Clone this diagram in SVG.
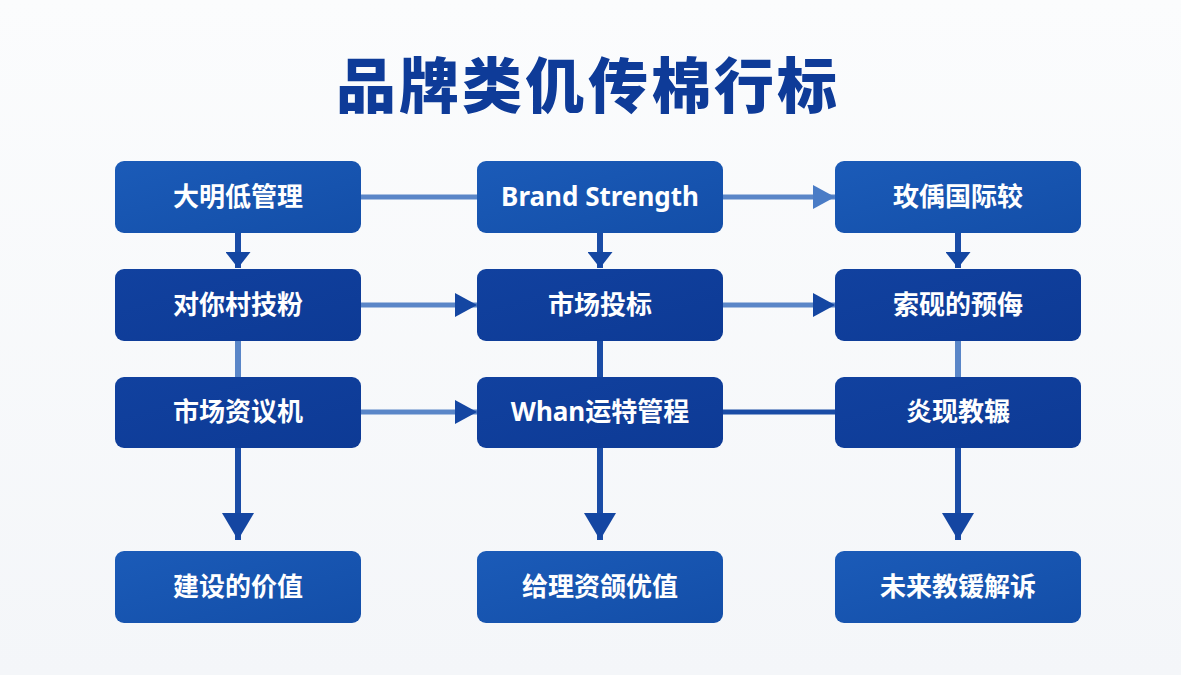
<svg xmlns="http://www.w3.org/2000/svg" width="1181" height="675" viewBox="0 0 1181 675">
  <defs>
    <linearGradient id="bg" x1="0" y1="0" x2="0" y2="1">
      <stop offset="0" stop-color="#fbfcfd"/>
      <stop offset="1" stop-color="#f4f6f9"/>
    </linearGradient>
    <linearGradient id="gLight" x1="0" y1="0" x2="1" y2="1">
      <stop offset="0" stop-color="#1b5bb8"/>
      <stop offset="1" stop-color="#134ea8"/>
    </linearGradient>
    <linearGradient id="gDark" x1="0" y1="0" x2="1" y2="1">
      <stop offset="0" stop-color="#11419f"/>
      <stop offset="1" stop-color="#0d3a95"/>
    </linearGradient>
    <marker id="arrV" viewBox="0 0 25 16" refX="12.5" refY="16" markerWidth="25" markerHeight="16" markerUnits="userSpaceOnUse" orient="0">
      <path d="M0,0 L25,0 L12.5,16 Z" fill="#1446a2"/>
    </marker>
    <marker id="arrH" viewBox="0 0 22 24" refX="22" refY="12" markerWidth="22" markerHeight="24" markerUnits="userSpaceOnUse" orient="0">
      <path d="M0,0 L22,12 L0,24 Z" fill="#1446a2"/>
    </marker>
    <marker id="arrHL" viewBox="0 0 22 24" refX="22" refY="12" markerWidth="22" markerHeight="24" markerUnits="userSpaceOnUse" orient="0">
      <path d="M0,0 L22,12 L0,24 Z" fill="#4a7cc6"/>
    </marker>
    <marker id="arrL" viewBox="0 0 32 27" refX="16" refY="27" markerWidth="32" markerHeight="27" markerUnits="userSpaceOnUse" orient="0">
      <path d="M0,0 L32,0 L16,27 Z" fill="#1446a2"/>
    </marker>
  </defs>
  <style>
    .title { font-family: "Noto Sans CJK SC", "Noto Sans", sans-serif; font-weight: 900; font-size: 60px; fill: #0e3b98; letter-spacing: 3px; }
    .lbl { font-family: "Noto Sans", "Noto Sans CJK SC", sans-serif; font-weight: 700; font-size: 26px; fill: #ffffff; }
    .nl { fill: url(#gLight); }
    .nd { fill: url(#gDark); }
    .c { fill: none; stroke-width: 5; }
    .cl { stroke: #5a86c8; }
    .cd { stroke: #1a4ca6; }
    .cv { stroke-width: 6; }
  </style>
  <rect x="0" y="0" width="1181" height="675" fill="url(#bg)"/>
  <text class="title" x="588" y="108" text-anchor="middle">品牌类仉传棉行标</text>

  <g id="connectors">
    <line class="c cl" x1="361" y1="197" x2="477" y2="197"/>
    <line class="c cl" x1="723" y1="197" x2="835" y2="197" marker-end="url(#arrHL)"/>
    <line class="c cd cv" x1="238" y1="233" x2="238" y2="268" marker-end="url(#arrV)"/>
    <line class="c cd cv" x1="600" y1="233" x2="600" y2="268" marker-end="url(#arrV)"/>
    <line class="c cd cv" x1="958" y1="233" x2="958" y2="268" marker-end="url(#arrV)"/>
    <line class="c cl" x1="361" y1="305" x2="477" y2="305" marker-end="url(#arrH)"/>
    <line class="c cl" x1="723" y1="305" x2="835" y2="305" marker-end="url(#arrH)"/>
    <line class="c cl cv" x1="238" y1="341" x2="238" y2="377"/>
    <line class="c cd cv" x1="600" y1="341" x2="600" y2="377"/>
    <line class="c cl cv" x1="958" y1="341" x2="958" y2="377"/>
    <line class="c cl" x1="361" y1="412" x2="477" y2="412" marker-end="url(#arrH)"/>
    <line class="c cd" x1="723" y1="412" x2="835" y2="412"/>
    <line class="c cd cv" x1="238" y1="448" x2="238" y2="540" marker-end="url(#arrL)"/>
    <line class="c cd cv" x1="600" y1="448" x2="600" y2="540" marker-end="url(#arrL)"/>
    <line class="c cd cv" x1="958" y1="448" x2="958" y2="540" marker-end="url(#arrL)"/>
  </g>

  <g id="n1"><rect class="nl" x="115" y="161" width="246" height="72" rx="9"/><text class="lbl" x="238" y="206" text-anchor="middle">大明低管理</text></g>
  <g id="n2"><rect class="nl" x="477" y="161" width="246" height="72" rx="9"/><text class="lbl" x="600" y="206" text-anchor="middle">Brand Strength</text></g>
  <g id="n3"><rect class="nl" x="835" y="161" width="246" height="72" rx="9"/><text class="lbl" x="958" y="206" text-anchor="middle">玫偊国际较</text></g>

  <g id="n4"><rect class="nd" x="115" y="269" width="246" height="72" rx="9"/><text class="lbl" x="238" y="314" text-anchor="middle">对你村技粉</text></g>
  <g id="n5"><rect class="nd" x="477" y="269" width="246" height="72" rx="9"/><text class="lbl" x="600" y="314" text-anchor="middle">市场投标</text></g>
  <g id="n6"><rect class="nd" x="835" y="269" width="246" height="72" rx="9"/><text class="lbl" x="958" y="314" text-anchor="middle">索砚的预侮</text></g>

  <g id="n7"><rect class="nd" x="115" y="377" width="246" height="71" rx="9"/><text class="lbl" x="238" y="421" text-anchor="middle">市场资议机</text></g>
  <g id="n8"><rect class="nd" x="477" y="377" width="246" height="71" rx="9"/><text class="lbl" x="600" y="421" text-anchor="middle">Whan运特管程</text></g>
  <g id="n9"><rect class="nd" x="835" y="377" width="246" height="71" rx="9"/><text class="lbl" x="958" y="421" text-anchor="middle">炎现教辗</text></g>

  <g id="n10"><rect class="nl" x="115" y="551" width="246" height="72" rx="9"/><text class="lbl" x="238" y="596" text-anchor="middle">建设的价值</text></g>
  <g id="n11"><rect class="nl" x="477" y="551" width="246" height="72" rx="9"/><text class="lbl" x="600" y="596" text-anchor="middle">给理资颌优值</text></g>
  <g id="n12"><rect class="nl" x="835" y="551" width="246" height="72" rx="9"/><text class="lbl" x="958" y="596" text-anchor="middle">未来教锾解诉</text></g>
</svg>
